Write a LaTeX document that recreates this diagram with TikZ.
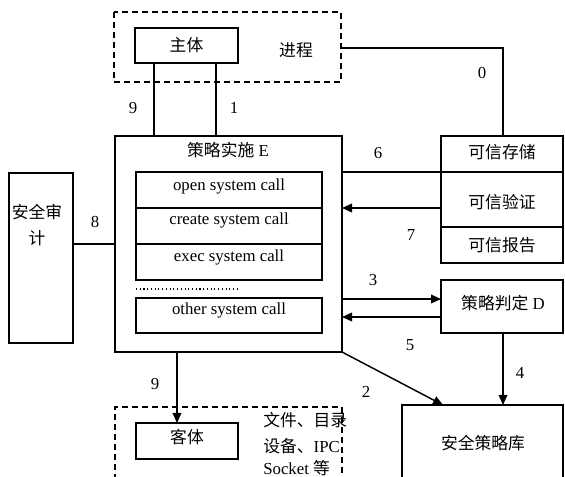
\documentclass[tikz,border=0pt]{standalone}
\usepackage{fontspec}
\setmainfont{Liberation Serif}
\newfontfamily\cjk{Noto Sans CJK SC}
\usetikzlibrary{arrows.meta}
\tikzset{
  box/.style={draw, line width=1.1pt},
  dbox/.style={draw, line width=1.1pt, dash pattern=on 4.5pt off 3pt},
  conn/.style={line width=1.1pt},
  arr/.style={line width=1.1pt, -{Triangle[length=7.5pt,width=6.5pt]}},
  lbl/.style={inner sep=0pt, font=\fontsize{12.6}{15}\selectfont},
  txt/.style={inner sep=0pt, font=\fontsize{12.6}{15}\selectfont},
}
\begin{document}
\begin{tikzpicture}[x=0.75pt,y=-0.75pt]
\useasboundingbox (0,0) rectangle (565,477);
% process dashed box
\draw[dbox] (114,12) rectangle (341,82);
\draw[box] (135,28) rectangle (238,63);
\node[txt] (subjt) at (186.5,45) {\cjk 主体};
\node[txt] (proc) at (296,50) {\cjk 进程};
\coordinate (procR) at (341,48);
% E box
\draw[box] (115,136) rectangle (342,352);
\node[txt] (Et) at (228,150) {{\cjk 策略实施} E};
\draw[box] (136,172) rectangle (322,208);
\draw[box] (136,208) rectangle (322,244);
\draw[box] (136,244) rectangle (322,280);
\draw[box] (136,298) rectangle (322,333);
\node[txt] (c1) at (229,186) {open system call};
\node[txt] (c2) at (229,220) {create system call};
\node[txt] (c3) at (229,257) {exec system call};
\node[txt] (c4) at (229,310) {other system call};
\draw[line width=0.8pt, dotted] (136,289) -- (237,289);
% subject-E lines
\coordinate (s9a) at (154,63); \coordinate (s9b) at (154,136);
\coordinate (s1a) at (216,63); \coordinate (s1b) at (216,136);
\draw[conn] (s9a) -- (s9b);
\draw[conn] (s1a) -- (s1b);
\node[lbl] at (133,108) {9};
\node[lbl] at (234,108) {1};
% trust boxes
\draw[box] (441,136) rectangle (563,263);
\draw[conn] (441,172) -- (563,172);
\draw[conn] (441,227) -- (563,227);
\node[txt] (ts) at (502,152) {\cjk 可信存储};
\node[txt] (tv) at (502,202) {\cjk 可信验证};
\node[txt] (tr) at (502,245) {\cjk 可信报告};
\coordinate (trustTop) at (503,136);
\draw[conn] (procR) -- (503,48) -- (trustTop);
\node[lbl] at (482,73) {0};
\draw[conn] (342,172) -- (441,172);
\node[lbl] at (378,153) {6};
\draw[arr] (441,208) -- (342,208);
\node[lbl] at (411,235) {7};
% decision D
\draw[box] (441,280) rectangle (563,333);
\node[txt] (D) at (503,303) {{\cjk 策略判定} D};
\draw[arr] (342,299) -- (441,299);
\node[lbl] at (373,280) {3};
\draw[arr] (441,317) -- (342,317);
\node[lbl] at (410,345) {5};
% policy db
\draw[box] (402,405) -- (563,405) -- (563,478) -- (402,478) -- cycle;
\node[txt] (db) at (483,443) {\cjk 安全策略库};
\draw[arr] (503,333) -- (503,405);
\node[lbl] at (520,373) {4};
\draw[arr] (342,352) -- (443,405);
\node[lbl] at (366,392) {2};
% audit
\draw[box] (9,173) rectangle (73,343);
\node[txt] (au1) at (37,212) {\cjk 安全审};
\node[txt] (au2) at (37,238) {\cjk 计};
\draw[conn] (73,244) -- (115,244);
\node[lbl] at (95,222) {8};
% object
\draw[dbox] (115,480) -- (115,407) -- (342,407) -- (342,480);
\draw[box] (136,423) rectangle (238,459);
\node[txt] (obj) at (187,437) {\cjk 客体};
\draw[arr] (177,352) -- (177,423);
\node[lbl] at (155,384) {9};
\node[txt, anchor=west] at (263,420) {\cjk 文件、目录};
\node[txt, anchor=west] at (263,446) {{\cjk 设备、}IPC};
\node[txt, anchor=west] at (263,468) {Socket {\cjk 等}};
\end{tikzpicture}
\end{document}
